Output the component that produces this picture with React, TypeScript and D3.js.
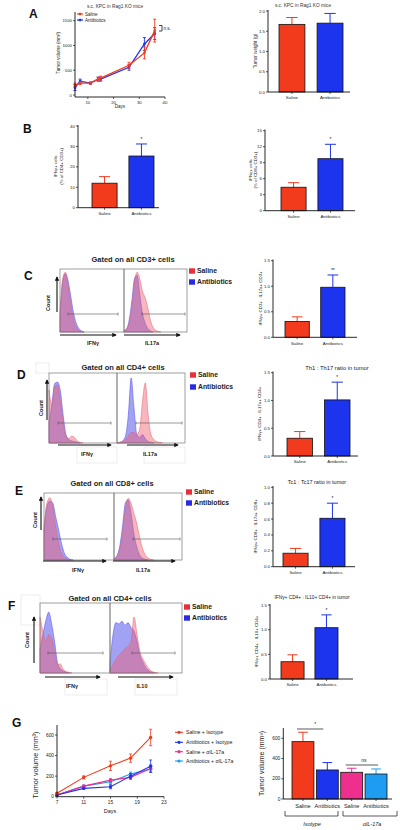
import React from "react";
import * as d3 from "d3";

const FONT = "'Liberation Sans', Arial, Helvetica, sans-serif";
const RED = "#f23a1c";
const BLUE = "#1d34ee";
const PINK = "#ee2f8e";
const LBLUE = "#1e9cf2";

// ---------- Panel A ----------
const aDays = [5, 7, 11, 14, 15, 26, 32, 36];
const aSaline = [200, 240, 240, 320, 340, 600, 850, 1300];
const aSalineErr = [40, 30, 20, 40, 40, 60, 120, 230];
const aAbx = [150, 280, 240, 320, 320, 560, 1030, 1240];
const aAbxErr = [60, 40, 20, 40, 40, 60, 130, 120];
const aXTicks = [10, 20, 30, 40];
const aYTicks = [0, 500, 1000, 1500];

const cats2 = ["Saline", "Antibiotics"];
const aWeight = [1.67, 1.7];
const aWeightErr = [0.17, 0.24];

// ---------- Panel B ----------
const bCD4 = [12, 25.3];
const bCD4Err = [3.2, 5.9];
const bCD8 = [4.4, 9.75];
const bCD8Err = [0.85, 2.7];

// ---------- Panels C-F ratios ----------
const cRatio = [0.31, 0.98];
const cRatioErr = [0.09, 0.24];
const dRatio = [0.32, 1.01];
const dRatioErr = [0.12, 0.32];
const eRatio = [0.17, 0.61];
const eRatioErr = [0.06, 0.19];
const fRatio = [0.35, 1.04];
const fRatioErr = [0.14, 0.26];

// ---------- Histograms (relative counts per bin) ----------
const cLeftRed = [0.3, 0.85, 0.95, 0.75, 0.45, 0.2, 0.08, 0.03, 0.01, 0];
const cLeftBlue = [0.25, 0.8, 0.93, 0.82, 0.58, 0.32, 0.15, 0.06, 0.02, 0];
const cRightRed = [0.02, 0.05, 0.15, 0.4, 0.8, 0.95, 0.85, 0.65, 0.55, 0.4, 0.2, 0.08, 0.03, 0.01, 0];
const cRightBlue = [0.02, 0.05, 0.2, 0.5, 0.85, 0.9, 0.6, 0.3, 0.15, 0.06, 0.02, 0];
const dLeftRed = [0.76, 0.55, 0.8, 0.83, 0.6, 0.3, 0.1, 0.06, 0.1, 0.08, 0.03, 0.01, 0];
const dLeftBlue = [0.3, 0.55, 0.85, 0.87, 0.75, 0.4, 0.12, 0.05, 0.03, 0.02, 0.01, 0];
const dRightRed = [0, 0.01, 0.02, 0.05, 0.1, 0.15, 0.15, 0.12, 0.2, 0.6, 0.86, 0.4, 0.12, 0.05, 0.02, 0.01, 0];
const dRightBlue = [0, 0.01, 0.03, 0.1, 0.4, 0.93, 0.5, 0.12, 0.08, 0.12, 0.06, 0.02, 0.01, 0];
const eLeftRed = [0.5, 0.85, 0.93, 0.8, 0.5, 0.25, 0.1, 0.04, 0.01, 0];
const eLeftBlue = [0.45, 0.8, 0.88, 0.85, 0.65, 0.45, 0.25, 0.1, 0.04, 0.01, 0];
const eRightRed = [0.02, 0.05, 0.15, 0.4, 0.75, 0.92, 0.85, 0.7, 0.55, 0.35, 0.18, 0.08, 0.03, 0.01, 0];
const eRightBlue = [0.02, 0.06, 0.2, 0.5, 0.85, 0.9, 0.7, 0.4, 0.2, 0.08, 0.03, 0.01, 0];
const fLeftRed = [0.8, 0.6, 0.45, 0.55, 0.5, 0.3, 0.12, 0.13, 0.05, 0.02, 0.01, 0];
const fLeftBlue = [0.35, 0.55, 0.75, 0.87, 0.7, 0.45, 0.15, 0.06, 0.03, 0.01, 0];
const fRightRed = [0.05, 0.12, 0.2, 0.25, 0.3, 0.35, 0.38, 0.45, 0.8, 0.55, 0.3, 0.2, 0.12, 0.06, 0.02, 0.01, 0];
const fRightBlue = [0.15, 0.55, 0.72, 0.7, 0.74, 0.68, 0.72, 0.65, 0.6, 0.45, 0.25, 0.15, 0.07, 0.03, 0.01, 0];

// ---------- Panel G ----------
const gDays = [7, 11, 15, 18, 21];
const gXTicks = [7, 11, 15, 19, 23];
const gYTicks = [0, 200, 400, 600];
const gSeriesNames = ["Saline + Isotype", "Antibiotics + Isotype", "Saline + αIL-17a", "Antibiotics + αIL-17a"];
const gSalIso = [33, 188, 300, 375, 576];
const gSalIsoErr = [8, 15, 45, 40, 80];
const gAbxIso = [17, 81, 97, 200, 297];
const gAbxIsoErr = [5, 10, 20, 25, 60];
const gSalIL = [17, 103, 161, 188, 275];
const gSalILErr = [5, 10, 15, 20, 35];
const gAbxIL = [17, 103, 145, 220, 268];
const gAbxILErr = [5, 10, 15, 20, 30];
const gBarCats = ["Saline", "Antibiotics", "Saline", "Antibiotics"];
const gBarVals = [567, 287, 264, 247];
const gBarErr = [93, 73, 40, 50];

const f1 = d3.format(".1f");
const f0 = d3.format("d");

type BarCfg = {
  x0: number; x1: number; y0: number; maxVal: number; maxPx: number; axisTop: number;
  band: [number, number]; pad: number; ticks: number[]; fmt: (v: number) => string;
  values: number[]; errs: number[]; colors: string[]; cats: string[];
  ylabel: string[]; ylabelX: number; ylabelSize: number; catSize: number; tickSize: number;
  catBold?: boolean;
};

function BarChart({ c }: { c: BarCfg }) {
  const y = d3.scaleLinear().domain([0, c.maxVal]).range([c.y0, c.maxPx]);
  const xb = d3.scaleBand<string>().domain(c.values.map((_, i) => String(i))).range(c.band).paddingInner(c.pad);
  const bw = xb.bandwidth();
  const midY = (c.y0 + c.axisTop) / 2;
  return (
    <g fontFamily={FONT}>
      {c.values.map((v, i) => {
        const bx = xb(String(i))!;
        const cx = bx + bw / 2;
        const top = y(v);
        const et = y(v + c.errs[i]);
        return (
          <g key={i}>
            <line x1={cx} x2={cx} y1={top} y2={et} stroke={c.colors[i]} strokeWidth={1} />
            <line x1={cx - bw * 0.22} x2={cx + bw * 0.22} y1={et} y2={et} stroke={c.colors[i]} strokeWidth={1} />
            <rect x={bx} y={top} width={bw} height={c.y0 - top} fill={c.colors[i]} stroke="#111" strokeWidth={0.8} />
            <line x1={cx} x2={cx} y1={c.y0} y2={c.y0 + 2} stroke="#111" strokeWidth={0.7} />
            <text x={cx} y={c.y0 + 3 + c.catSize} textAnchor="middle" fontSize={c.catSize} fill="#222" fontWeight={c.catBold ? "bold" : "normal"}>{c.cats[i]}</text>
          </g>
        );
      })}
      <line x1={c.x0} x2={c.x0} y1={c.y0} y2={c.axisTop} stroke="#111" strokeWidth={0.9} />
      <line x1={c.x0} x2={c.x1} y1={c.y0} y2={c.y0} stroke="#111" strokeWidth={0.9} />
      {c.ticks.map((t) => (
        <g key={t}>
          <line x1={c.x0 - 2} x2={c.x0} y1={y(t)} y2={y(t)} stroke="#111" strokeWidth={0.7} />
          <text x={c.x0 - 3} y={y(t)} dy="0.35em" textAnchor="end" fontSize={c.tickSize} fill="#222">{c.fmt(t)}</text>
        </g>
      ))}
      <g transform={`translate(${c.ylabelX},${midY}) rotate(-90)`}>
        {c.ylabel.map((l, i) => (
          <text key={i} x={0} y={(i - (c.ylabel.length - 1) / 2) * (c.ylabelSize + 1.5)} dy="0.35em" textAnchor="middle" fontSize={c.ylabelSize} fill="#222">{l}</text>
        ))}
      </g>
    </g>
  );
}

function sigY(c: BarCfg, i: number) {
  const y = d3.scaleLinear().domain([0, c.maxVal]).range([c.y0, c.maxPx]);
  return y(c.values[i] + c.errs[i]);
}
function bandCenter(c: BarCfg, i: number) {
  const xb = d3.scaleBand<string>().domain(c.values.map((_, k) => String(k))).range(c.band).paddingInner(c.pad);
  return xb(String(i))! + xb.bandwidth() / 2;
}

const NB = 25;
function Hist({ x, y, w, h, red, blue }: { x: number; y: number; w: number; h: number; red: number[]; blue: number[] }) {
  const sx = d3.scaleLinear().domain([0, NB - 1]).range([x, x + w]);
  const sy = d3.scaleLinear().domain([0, 1]).range([y + h, y]);
  const area = d3.area<number>().x((_, i) => sx(i)).y0(y + h).y1((d) => sy(d)).curve(d3.curveMonotoneX);
  return (
    <g>
      <path d={area(blue) || ""} fill="rgba(70,70,235,0.5)" stroke="#4a4ae6" strokeWidth={0.5} />
      <path d={area(red) || ""} fill="rgba(238,90,110,0.45)" stroke="#e2606e" strokeWidth={0.5} />
    </g>
  );
}

type FlowCfg = {
  bx: number; by: number; w1: number; w2: number; h: number;
  title: string; titleX: number; titleY: number;
  letter: string; letterX: number; letterY: number;
  lr: number[]; lb: number[]; rr: number[]; rb: number[];
  gateY: number; gateL: [number, number]; gateR: [number, number];
  arrowY: number; arrowL: [number, number]; arrowR: [number, number];
  labels: [string, string]; labelX: [number, number]; labelY: number;
  countX: number; countY: number; cArrowX: number; cArrowB: number; cArrowT: number;
  legX: number; legY: [number, number];
  ghost?: [number, number, number, number][];
};

function Flow({ f }: { f: FlowCfg }) {
  const gate = (a: [number, number], yy: number) => (
    <g stroke="#555" strokeWidth={0.6}>
      <line x1={a[0]} x2={a[1]} y1={yy} y2={yy} />
      <line x1={a[0]} x2={a[0]} y1={yy - 1.5} y2={yy + 1.5} />
      <line x1={a[1]} x2={a[1]} y1={yy - 1.5} y2={yy + 1.5} />
    </g>
  );
  return (
    <g fontFamily={FONT}>
      {(f.ghost || []).map((g, i) => (
        <rect key={i} x={g[0]} y={g[1]} width={g[2]} height={g[3]} fill="none" stroke="#e4e4e4" strokeWidth={0.7} />
      ))}
      <text x={f.letterX} y={f.letterY} dy="0.35em" fontSize={12} fontWeight="bold" fill="#111">{f.letter}</text>
      <text x={f.titleX} y={f.titleY} dy="0.35em" textAnchor="middle" fontSize={7.5} fontWeight="bold" fill="#222">{f.title}</text>
      <Hist x={f.bx} y={f.by} w={f.w1} h={f.h} red={f.lr} blue={f.lb} />
      <Hist x={f.bx + f.w1} y={f.by} w={f.w2} h={f.h} red={f.rr} blue={f.rb} />
      <rect x={f.bx} y={f.by} width={f.w1} height={f.h} fill="none" stroke="#777" strokeWidth={0.7} />
      <rect x={f.bx + f.w1} y={f.by} width={f.w2} height={f.h} fill="none" stroke="#777" strokeWidth={0.7} />
      {gate(f.gateL, f.gateY)}
      {gate(f.gateR, f.gateY)}
      <line x1={f.arrowL[0]} x2={f.arrowL[1]} y1={f.arrowY} y2={f.arrowY} stroke="#111" strokeWidth={1.1} markerEnd="url(#arr)" />
      <line x1={f.arrowR[0]} x2={f.arrowR[1]} y1={f.arrowY} y2={f.arrowY} stroke="#111" strokeWidth={1.1} markerEnd="url(#arr)" />
      <text x={f.labelX[0]} y={f.labelY} dy="0.35em" textAnchor="middle" fontSize={5.5} fontWeight="bold" fill="#222">{f.labels[0]}</text>
      <text x={f.labelX[1]} y={f.labelY} dy="0.35em" textAnchor="middle" fontSize={5.5} fontWeight="bold" fill="#222">{f.labels[1]}</text>
      <line x1={f.cArrowX} x2={f.cArrowX} y1={f.cArrowB} y2={f.cArrowT} stroke="#111" strokeWidth={1.1} markerEnd="url(#arr)" />
      <text transform={`translate(${f.countX},${f.countY}) rotate(-90)`} dy="0.35em" textAnchor="middle" fontSize={5.5} fontWeight="bold" fill="#222">Count</text>
      <rect x={f.legX} y={f.legY[0] - 2.7} width={6} height={5.4} fill="#e8303a" />
      <text x={f.legX + 8} y={f.legY[0]} dy="0.35em" fontSize={6.8} fontWeight="bold" fill="#222">Saline</text>
      <rect x={f.legX} y={f.legY[1] - 2.7} width={6} height={5.4} fill="#2a2ae6" />
      <text x={f.legX + 8} y={f.legY[1]} dy="0.35em" fontSize={6.8} fontWeight="bold" fill="#222">Antibiotics</text>
    </g>
  );
}

function LinePanelA() {
  const x = d3.scaleLinear().domain([5, 40]).range([75, 165]);
  const y = d3.scaleLinear().domain([0, 1500]).range([95, 20.7]);
  const line = d3.line<number>().x((_, i) => x(aDays[i])).y((d) => y(d));
  const series = [
    { v: aAbx, e: aAbxErr, c: BLUE },
    { v: aSaline, e: aSalineErr, c: RED },
  ];
  return (
    <g fontFamily={FONT}>
      <text x={29} y={14} dy="0.35em" fontSize={12} fontWeight="bold" fill="#111">A</text>
      <text x={115} y={6} dy="0.35em" textAnchor="middle" fontSize={4.8} fill="#333">s.c. KPC  in Rag1 KO mice</text>
      {series.map((s, k) => (
        <g key={k}>
          <path d={line(s.v) || ""} fill="none" stroke={s.c} strokeWidth={1.3} />
          {s.v.map((v, i) => (
            <g key={i}>
              <line x1={x(aDays[i])} x2={x(aDays[i])} y1={y(v - s.e[i])} y2={y(v + s.e[i])} stroke={s.c} strokeWidth={0.9} />
              <line x1={x(aDays[i]) - 1.5} x2={x(aDays[i]) + 1.5} y1={y(v + s.e[i])} y2={y(v + s.e[i])} stroke={s.c} strokeWidth={0.9} />
              <line x1={x(aDays[i]) - 1.5} x2={x(aDays[i]) + 1.5} y1={y(v - s.e[i])} y2={y(v - s.e[i])} stroke={s.c} strokeWidth={0.9} />
              <rect x={x(aDays[i]) - 1.2} y={y(v) - 1.2} width={2.4} height={2.4} fill={s.c} />
            </g>
          ))}
        </g>
      ))}
      <line x1={75} x2={75} y1={97} y2={12} stroke="#111" strokeWidth={0.9} />
      <line x1={75} x2={165} y1={97} y2={97} stroke="#111" strokeWidth={0.9} />
      {aYTicks.map((t) => (
        <g key={t}>
          <line x1={73} x2={75} y1={y(t)} y2={y(t)} stroke="#111" strokeWidth={0.7} />
          <text x={72} y={y(t)} dy="0.35em" textAnchor="end" fontSize={4.3} fill="#222">{t}</text>
        </g>
      ))}
      {aXTicks.map((t) => (
        <g key={t}>
          <line x1={x(t)} x2={x(t)} y1={97} y2={99} stroke="#111" strokeWidth={0.7} />
          <text x={x(t)} y={102} dy="0.35em" textAnchor="middle" fontSize={4.3} fill="#222">{t}</text>
        </g>
      ))}
      <text x={120} y={106} dy="0.35em" textAnchor="middle" fontSize={4.5} fill="#222">Days</text>
      <text transform="translate(58,53) rotate(-90)" dy="0.35em" textAnchor="middle" fontSize={4.5} fill="#222">Tumor volume (mm³)</text>
      <line x1={77} x2={83} y1={14} y2={14} stroke={RED} strokeWidth={1.2} />
      <rect x={78.8} y={12.8} width={2.4} height={2.4} fill={RED} />
      <text x={85} y={14} dy="0.35em" fontSize={4.5} fill="#222">Saline</text>
      <line x1={77} x2={83} y1={20} y2={20} stroke={BLUE} strokeWidth={1.2} />
      <rect x={78.8} y={18.8} width={2.4} height={2.4} fill={BLUE} />
      <text x={85} y={20} dy="0.35em" fontSize={4.5} fill="#222">Antibiotics</text>
      <path d="M159,25.5 H162 V31 H159" fill="none" stroke="#111" strokeWidth={0.8} />
      <text x={163.5} y={28.5} dy="0.35em" fontSize={4.5} fill="#222">n.s.</text>
    </g>
  );
}

function LinePanelG() {
  const x = d3.scaleLinear().domain([7, 23]).range([57, 164]);
  const y = d3.scaleLinear().domain([0, 600]).range([796.7, 735]);
  const line = d3.line<number>().x((_, i) => x(gDays[i])).y((d) => y(d));
  const series = [
    { v: gAbxIL, e: gAbxILErr, c: LBLUE },
    { v: gSalIL, e: gSalILErr, c: PINK },
    { v: gAbxIso, e: gAbxIsoErr, c: BLUE },
    { v: gSalIso, e: gSalIsoErr, c: RED },
  ];
  const legColors = [RED, BLUE, PINK, LBLUE];
  const legY = [732.3, 742.3, 751.7, 761];
  return (
    <g fontFamily={FONT}>
      <text x={12} y={723} dy="0.35em" fontSize={12} fontWeight="bold" fill="#111">G</text>
      {series.map((s, k) => (
        <g key={k}>
          <path d={line(s.v) || ""} fill="none" stroke={s.c} strokeWidth={1.1} />
          {s.v.map((v, i) => (
            <g key={i}>
              <line x1={x(gDays[i])} x2={x(gDays[i])} y1={y(v - s.e[i])} y2={y(v + s.e[i])} stroke={s.c} strokeWidth={0.8} />
              <line x1={x(gDays[i]) - 1.5} x2={x(gDays[i]) + 1.5} y1={y(v + s.e[i])} y2={y(v + s.e[i])} stroke={s.c} strokeWidth={0.8} />
              <line x1={x(gDays[i]) - 1.5} x2={x(gDays[i]) + 1.5} y1={y(v - s.e[i])} y2={y(v - s.e[i])} stroke={s.c} strokeWidth={0.8} />
              <circle cx={x(gDays[i])} cy={y(v)} r={1.7} fill={s.c} />
            </g>
          ))}
        </g>
      ))}
      <line x1={57} x2={57} y1={796.7} y2={725} stroke="#111" strokeWidth={0.9} />
      <line x1={57} x2={164} y1={796.7} y2={796.7} stroke="#111" strokeWidth={0.9} />
      {gYTicks.map((t) => (
        <g key={t}>
          <line x1={55} x2={57} y1={y(t)} y2={y(t)} stroke="#111" strokeWidth={0.7} />
          <text x={54} y={y(t)} dy="0.35em" textAnchor="end" fontSize={4.8} fill="#222">{t}</text>
        </g>
      ))}
      {gXTicks.map((t) => (
        <g key={t}>
          <line x1={x(t)} x2={x(t)} y1={796.7} y2={798.7} stroke="#111" strokeWidth={0.7} />
          <text x={x(t)} y={802.7} dy="0.35em" textAnchor="middle" fontSize={4.8} fill="#222">{t}</text>
        </g>
      ))}
      <text x={110} y={811} dy="0.35em" textAnchor="middle" fontSize={5.5} fill="#222">Days</text>
      <text transform="translate(35,765) rotate(-90)" dy="0.35em" textAnchor="middle" fontSize={7.2} fill="#222">Tumor volume (mm³)</text>
      {gSeriesNames.map((n, i) => (
        <g key={n}>
          <line x1={175} x2={183} y1={legY[i]} y2={legY[i]} stroke={legColors[i]} strokeWidth={1.1} />
          <circle cx={179} cy={legY[i]} r={1.6} fill={legColors[i]} />
          <text x={186} y={legY[i]} dy="0.35em" fontSize={5.2} fill="#222">{n}</text>
        </g>
      ))}
    </g>
  );
}

const T = 4.4;
const barA: BarCfg = { x0: 268, x1: 350, y0: 92, maxVal: 2, maxPx: 11, axisTop: 10, band: [279, 343], pad: 0.32, ticks: [0, 0.5, 1, 1.5, 2], fmt: f1, values: aWeight, errs: aWeightErr, colors: [RED, BLUE], cats: cats2, ylabel: ["Tumor weight (g)"], ylabelX: 255, ylabelSize: 4.6, catSize: T, tickSize: T };
const barB1: BarCfg = { x0: 78, x1: 159, y0: 207.7, maxVal: 40, maxPx: 126, axisTop: 125, band: [92, 154], pad: 0.32, ticks: [0, 10, 20, 30, 40], fmt: f0, values: bCD4, errs: bCD4Err, colors: [RED, BLUE], cats: cats2, ylabel: ["IFNγ+ cells", "(% of CD4+ CD3+)"], ylabelX: 58.5, ylabelSize: 4.4, catSize: T, tickSize: T };
const barB2: BarCfg = { x0: 265, x1: 355, y0: 210.7, maxVal: 15, maxPx: 130.7, axisTop: 129.5, band: [281, 343], pad: 0.32, ticks: [0, 3, 6, 9, 12, 15], fmt: f0, values: bCD8, errs: bCD8Err, colors: [RED, BLUE], cats: cats2, ylabel: ["IFNγ+ cells", "(% of CD8+ CD3+)"], ylabelX: 253, ylabelSize: 4.4, catSize: T, tickSize: T };
const barC: BarCfg = { x0: 273, x1: 357, y0: 337.3, maxVal: 1.5, maxPx: 260.7, axisTop: 259.5, band: [285, 345], pad: 0.32, ticks: [0, 0.5, 1, 1.5], fmt: f1, values: cRatio, errs: cRatioErr, colors: [RED, BLUE], cats: cats2, ylabel: ["IFNγ+ CD3+ : IL17a+ CD3+"], ylabelX: 260, ylabelSize: 4.4, catSize: T, tickSize: T };
const barD: BarCfg = { x0: 273, x1: 358, y0: 456, maxVal: 1.5, maxPx: 372.7, axisTop: 371.5, band: [287, 350], pad: 0.32, ticks: [0, 0.5, 1, 1.5], fmt: f1, values: dRatio, errs: dRatioErr, colors: [RED, BLUE], cats: cats2, ylabel: ["IFNγ+ CD4+ : IL17a+ CD4+"], ylabelX: 259, ylabelSize: 4.4, catSize: T, tickSize: T };
const barE: BarCfg = { x0: 273, x1: 355, y0: 566.7, maxVal: 1, maxPx: 487.3, axisTop: 486, band: [283, 345], pad: 0.32, ticks: [0, 0.2, 0.4, 0.6, 0.8, 1], fmt: f1, values: eRatio, errs: eRatioErr, colors: [RED, BLUE], cats: cats2, ylabel: ["IFNγ+ CD8+ : IL17a+ CD8+"], ylabelX: 255, ylabelSize: 4.4, catSize: T, tickSize: T };
const barF: BarCfg = { x0: 270, x1: 353, y0: 679, maxVal: 1.5, maxPx: 605, axisTop: 604, band: [281, 338], pad: 0.32, ticks: [0, 0.5, 1, 1.5], fmt: f1, values: fRatio, errs: fRatioErr, colors: [RED, BLUE], cats: cats2, ylabel: ["IFNγ+ CD4+ : IL10+ CD4+"], ylabelX: 256, ylabelSize: 4.4, catSize: T, tickSize: T };
const barG: BarCfg = { x0: 283.3, x1: 392, y0: 799, maxVal: 600, maxPx: 738.3, axisTop: 728, band: [292, 387], pad: 0.1, ticks: [0, 200, 400, 600], fmt: f0, values: gBarVals, errs: gBarErr, colors: [RED, BLUE, PINK, LBLUE], cats: gBarCats, ylabel: ["Tumor volume (mm³)"], ylabelX: 262, ylabelSize: 7, catSize: 5.6, tickSize: 4.8 };

const flowC: FlowCfg = {
  bx: 60, by: 269, w1: 64, w2: 63, h: 63, title: "Gated on all CD3+ cells", titleX: 133, titleY: 259,
  letter: "C", letterX: 24, letterY: 276, lr: cLeftRed, lb: cLeftBlue, rr: cRightRed, rb: cRightBlue,
  gateY: 314, gateL: [68, 118], gateR: [142, 185], arrowY: 335, arrowL: [60, 116], arrowR: [124, 180],
  labels: ["IFNγ", "IL17a"], labelX: [93, 152], labelY: 343, countX: 48, countY: 303, cArrowX: 57, cArrowB: 312, cArrowT: 277,
  legX: 189, legY: [271, 282],
};
const flowD: FlowCfg = {
  bx: 49, by: 373, w1: 68, w2: 68, h: 70, title: "Gated on all CD4+ cells", titleX: 123, titleY: 367,
  letter: "D", letterX: 17, letterY: 375, lr: dLeftRed, lb: dLeftBlue, rr: dRightRed, rb: dRightBlue,
  gateY: 423, gateL: [58, 111], gateR: [136, 182], arrowY: 445, arrowL: [58, 111], arrowR: [127, 178],
  labels: ["IFNγ", "IL17a"], labelX: [87, 150], labelY: 454, countX: 41, countY: 408, cArrowX: 47, cArrowB: 420, cArrowT: 380,
  legX: 190, legY: [375, 387],
  ghost: [[36, 363, 13, 10], [77, 447, 40, 16], [144, 447, 41, 16]],
};
const flowE: FlowCfg = {
  bx: 44, by: 493, w1: 70, w2: 68, h: 67, title: "Gated on all CD8+ cells", titleX: 112, titleY: 483,
  letter: "E", letterX: 15, letterY: 491, lr: eLeftRed, lb: eLeftBlue, rr: eRightRed, rb: eRightBlue,
  gateY: 539, gateL: [53, 107], gateR: [133, 180], arrowY: 561, arrowL: [43, 106], arrowR: [113, 175],
  labels: ["IFNγ", "IL17a"], labelX: [78, 143], labelY: 570, countX: 35, countY: 520, cArrowX: 41, cArrowB: 530, cArrowT: 497,
  legX: 186, legY: [492, 503],
};
const flowF: FlowCfg = {
  bx: 40, by: 603, w1: 70, w2: 72, h: 70, title: "Gated on all CD4+ cells", titleX: 110, titleY: 598,
  letter: "F", letterX: 8, letterY: 606, lr: fLeftRed, lb: fLeftBlue, rr: fRightRed, rb: fRightBlue,
  gateY: 653, gateL: [48, 103], gateR: [132, 175], arrowY: 677, arrowL: [45, 100], arrowR: [118, 173],
  labels: ["IFNγ", "IL10"], labelX: [72, 142], labelY: 686, countX: 27, countY: 640, cArrowX: 34, cArrowB: 663, cArrowT: 617,
  legX: 184, legY: [607, 618],
  ghost: [[21, 595, 19, 30], [65, 679, 42, 16], [135, 679, 42, 16]],
};

function Star({ c, i, text }: { c: BarCfg; i: number; text: string }) {
  return <text x={bandCenter(c, i)} y={sigY(c, i) - 5} dy="0.35em" textAnchor="middle" fontSize={5} fontFamily={FONT} fill="#222">{text}</text>;
}

export default function App() {
  const gc = [0, 1, 2, 3].map((i) => bandCenter(barG, i));
  return (
    <svg width={400} height={830} style={{ position: "absolute", left: 0, top: 0, background: "#fff" }}>
      <defs>
        <marker id="arr" viewBox="0 0 6 6" refX={5} refY={3} markerWidth={4} markerHeight={4} orient="auto">
          <path d="M0,0 L6,3 L0,6 z" fill="#111" />
        </marker>
      </defs>
      <rect x={0} y={0} width={400} height={830} fill="#fff" />
      <LinePanelA />
      <text x={303} y={5} dy="0.35em" textAnchor="middle" fontSize={4.8} fontFamily={FONT} fill="#333">s.c. KPC  in Rag1 KO mice</text>
      <BarChart c={barA} />

      <text x={23} y={129} dy="0.35em" fontSize={12} fontWeight="bold" fontFamily={FONT} fill="#111">B</text>
      <BarChart c={barB1} />
      <Star c={barB1} i={1} text="*" />
      <BarChart c={barB2} />
      <Star c={barB2} i={1} text="*" />

      <Flow f={flowC} />
      <BarChart c={barC} />
      <Star c={barC} i={1} text="**" />

      <Flow f={flowD} />
      <text x={337} y={368} dy="0.35em" textAnchor="middle" fontSize={5.8} fontFamily={FONT} fill="#222">Th1 : Th17 ratio in tumor</text>
      <BarChart c={barD} />
      <Star c={barD} i={1} text="*" />

      <Flow f={flowE} />
      <text x={317} y={482} dy="0.35em" textAnchor="middle" fontSize={5.5} fontFamily={FONT} fill="#222">Tc1 : Tc17 ratio in tumor</text>
      <BarChart c={barE} />
      <Star c={barE} i={1} text="*" />

      <Flow f={flowF} />
      <text x={312} y={597} dy="0.35em" textAnchor="middle" fontSize={4.8} fontFamily={FONT} fill="#222">IFNγ+ CD4+ : IL10+ CD4+ in tumor</text>
      <BarChart c={barF} />
      <Star c={barF} i={1} text="*" />

      <LinePanelG />
      <BarChart c={barG} />
      <g fontFamily={FONT} fill="#222">
        <line x1={gc[0] - 6} x2={gc[1] - 4} y1={729} y2={729} stroke="#111" strokeWidth={0.7} />
        <text x={(gc[0] + gc[1]) / 2} y={724} dy="0.35em" textAnchor="middle" fontSize={5}>*</text>
        <line x1={gc[2] - 6} x2={gc[3] + 2} y1={765} y2={765} stroke="#111" strokeWidth={0.7} />
        <text x={(gc[2] + gc[3]) / 2} y={760.5} dy="0.35em" textAnchor="middle" fontSize={5}>ns</text>
        <path d="M285,811 V816 H338 V811" fill="none" stroke="#111" strokeWidth={0.7} />
        <path d="M343,811 V816 H397 V811" fill="none" stroke="#111" strokeWidth={0.7} />
        <text x={312} y={824} dy="0.35em" textAnchor="middle" fontSize={5.5} fontStyle="italic">Isotype</text>
        <text x={372} y={824} dy="0.35em" textAnchor="middle" fontSize={5.5} fontStyle="italic">αIL-17a</text>
      </g>
    </svg>
  );
}
